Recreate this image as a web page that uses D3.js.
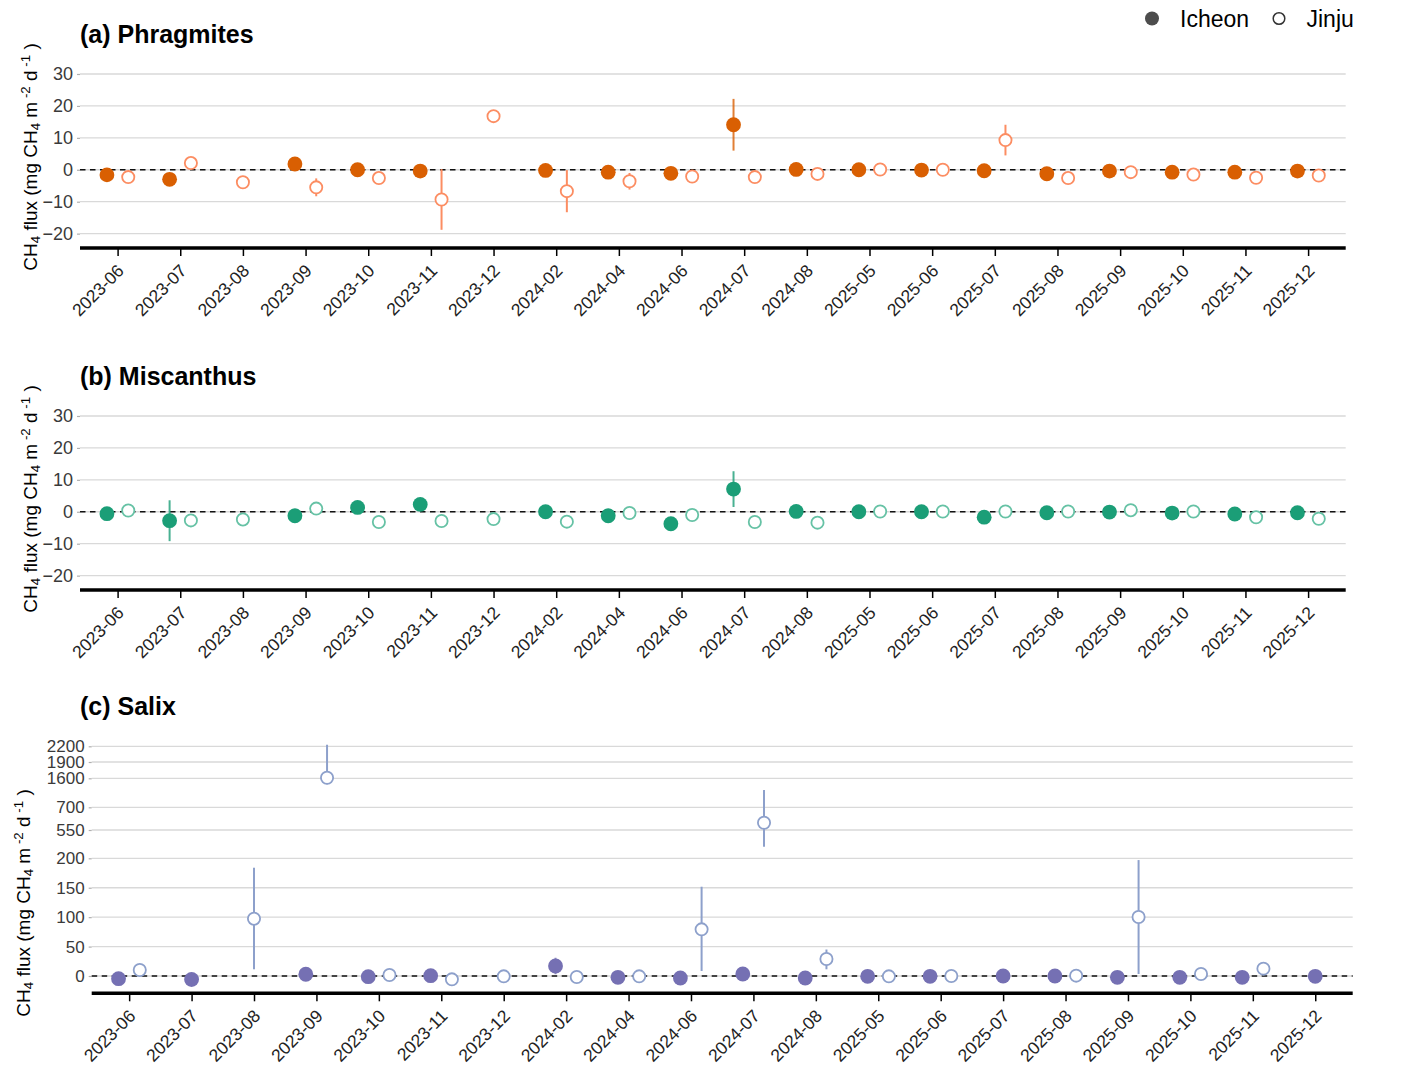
<!DOCTYPE html>
<html>
<head>
<meta charset="utf-8">
<script src="https://cdn.jsdelivr.net/npm/d3@7"></script>
<style>
  html, body { margin: 0; padding: 0; background: #fff; }
  svg { display: block; }
  text { font-family: "Liberation Sans", Arial, sans-serif; }
</style>
</head>
<body>
<svg id="chart" width="1413" height="1083"></svg>
<script>
// ---------------- DATA ----------------
const categories = ["2023-06","2023-07","2023-08","2023-09","2023-10","2023-11","2023-12",
  "2024-02","2024-04","2024-06","2024-07","2024-08","2025-05","2025-06","2025-07",
  "2025-08","2025-09","2025-10","2025-11","2025-12"];

const sites = ["Icheon", "Jinju"];

// (a) Phragmites
const phragIcheon    = [-1.6, -3.0, null, 1.8, 0.0, -0.4, null, -0.2, -0.75, -1.1, 14.1, 0.1, 0.0, -0.1, -0.3, -1.25, -0.4, -0.75, -0.75, -0.4];
const phragIcheonErr = [0, 0, null, 0, 0, 0, null, 0, 0, 0, 8.1, 0, 0, 0, 0, 0, 0, 0, 0, 0];
const phragJinju     = [-2.3, 2.1, -3.9, -5.5, -2.6, -9.3, 16.8, -6.7, -3.6, -2.1, -2.3, -1.3, 0.1, 0.0, 9.3, -2.6, -0.75, -1.5, -2.5, -1.8];
const phragJinjuErr  = [0, 0, 0, 2.8, 0, 9.5, 0, 6.6, 2.6, 0, 0, 0, 0, 0, 4.8, 0, 0, 0, 0, 0];

// (b) Miscanthus
const miscIcheon    = [-0.6, -2.8, null, -1.25, 1.35, 2.3, null, 0.0, -1.25, -3.75, 7.1, 0.1, 0.0, 0.0, -1.7, -0.3, -0.1, -0.4, -0.7, -0.3];
const miscIcheonErr = [0, 6.4, null, 0, 0, 0, null, 0, 0, 0, 5.6, 0, 0, 0, 0, 0, 0, 0, 0, 0];
const miscJinju     = [0.4, -2.7, -2.4, 1.0, -3.2, -2.9, -2.3, -3.1, -0.4, -1.0, -3.2, -3.4, 0.1, 0.1, 0.1, 0.1, 0.5, 0.1, -1.7, -2.2];
const miscJinjuErr  = [0, 0, 0, 0, 0, 0, 0, 0, 0, 0, 0, 0, 0, 0, 0, 0, 0, 0, 0, 0];

// (c) Salix (error bars given as lower / upper bounds)
const salixIcheon     = [-4.6, -6.0, null, 3.0, -1.1, 0.6, null, 17.0, -2.3, -3.4, 3.4, -3.4, -0.6, -0.6, 0.0, 0.0, -2.3, -2.3, -2.3, -0.6];
const salixIcheonLow  = [null, null, null, null, null, null, null, 3.0, null, null, null, null, null, null, null, null, null, null, null, null];
const salixIcheonHigh = [null, null, null, null, null, null, null, 31.0, null, null, null, null, null, null, null, null, null, null, null, null];
const salixJinju      = [10.2, null, 97.4, 1610, 1.7, -5.7, -0.6, -1.7, -0.6, 79.3, 598, 28.9, -0.6, 0.0, null, 0.6, 100.3, 3.4, 12.5, null];
const salixJinjuLow   = [null, null, 11.4, 1414, null, null, null, null, null, 8.5, 343, 11.4, null, null, null, null, 3.4, null, null, null];
const salixJinjuHigh  = [null, null, 184, 2230, null, null, null, null, null, 151.7, 1237, 45, null, null, null, null, 197, null, null, null];

// tick labels
const yTicksAB = [-20, -10, 0, 10, 20, 30];
const yTicksC  = [0, 50, 100, 150, 200, 550, 700, 1600, 1900, 2200];
// broken (piecewise) axis of panel (c): value breakpoints and their share of panel height
const salixBreaks     = [-29.5, 0, 200, 550, 700, 1600, 1900, 2200, 2244];
const salixBreakShare = [0, 0.0694, 0.5415, 0.655, 0.746, 0.8624, 0.9278, 0.9908, 1];

// colours
const panelColors = {
  a: { Icheon: "#D95F02", Jinju: "#FC8D62" },
  b: { Icheon: "#1B9E77", Jinju: "#66C2A5" },
  c: { Icheon: "#7570B3", Jinju: "#8DA0CB" }
};

// ---------------- DRAW ----------------
const svg = d3.select("#chart");
const FONT = "'Liberation Sans', Arial, sans-serif";

function buildRows(icheon, iLow, iHigh, jinju, jLow, jHigh) {
  const rows = [];
  categories.forEach((c, i) => {
    const both = icheon[i] != null && jinju[i] != null;
    if (icheon[i] != null) rows.push({cat: c, site: "Icheon", v: icheon[i], lo: iLow[i], hi: iHigh[i], dodge: both ? -1 : 0});
    if (jinju[i] != null) rows.push({cat: c, site: "Jinju", v: jinju[i], lo: jLow[i], hi: jHigh[i], dodge: both ? 1 : 0});
  });
  return rows;
}
function symLow(v, e) { return v.map((d, i) => (d == null || !e[i]) ? null : d - e[i]); }
function symHigh(v, e) { return v.map((d, i) => (d == null || !e[i]) ? null : d + e[i]); }

function yTitle(g, x, y) {
  const t = g.append("text")
    .attr("transform", `translate(${x},${y}) rotate(-90)`)
    .attr("text-anchor", "middle")
    .attr("font-size", 19)
    .attr("fill", "#000");
  t.append("tspan").text("CH");
  t.append("tspan").attr("baseline-shift", "-25%").attr("font-size", "70%").text("4");
  t.append("tspan").text(" flux (mg CH");
  t.append("tspan").attr("baseline-shift", "-25%").attr("font-size", "70%").text("4");
  t.append("tspan").text(" m");
  t.append("tspan").attr("baseline-shift", "55%").attr("font-size", "70%").text(" -2");
  t.append("tspan").text(" d");
  t.append("tspan").attr("baseline-shift", "55%").attr("font-size", "70%").text(" -1");
  t.append("tspan").text(" )");
}

function drawPanel(opt) {
  const { left, right, top, bottom, y, ticks, rows, colors, title, titleY, ytX, ytY, tickFont } = opt;
  const g = svg.append("g");
  const x = d3.scalePoint().domain(categories).range([left, right]).padding(0.6);
  const dodgeW = x.step() * 0.17;

  // grid lines
  g.append("g").selectAll("line").data(ticks).join("line")
    .attr("x1", left).attr("x2", right)
    .attr("y1", d => y(d)).attr("y2", d => y(d))
    .attr("stroke", "#d9d9d9").attr("stroke-width", 1.3);

  // y axis (labels + small grey ticks)
  const yAxis = d3.axisLeft(y).tickValues(ticks).tickSize(3).tickPadding(4).tickFormat(d3.format("d"));
  const ya = g.append("g").attr("transform", `translate(${left},0)`).call(yAxis);
  ya.select(".domain").remove();
  ya.selectAll(".tick line").attr("stroke", "#b0b0b0").attr("stroke-width", 1.2);
  ya.selectAll(".tick text").attr("font-size", tickFont).attr("fill", "#3a3a3a").attr("font-family", FONT);

  // zero reference line
  g.append("line")
    .attr("x1", left).attr("x2", right)
    .attr("y1", y(0)).attr("y2", y(0))
    .attr("stroke", "#111").attr("stroke-width", 1.4)
    .attr("stroke-dasharray", "5.5,4.5");

  // x axis
  const xAxis = d3.axisBottom(x).tickSize(8).tickSizeOuter(0).tickPadding(0);
  const xa = g.append("g").attr("transform", `translate(0,${bottom})`).call(xAxis);
  xa.select(".domain").attr("stroke", "#000").attr("stroke-width", 3.5)
    .attr("d", `M${left},0H${right}`);
  xa.selectAll(".tick line").attr("stroke", "#000").attr("stroke-width", 1.5);
  xa.selectAll(".tick text")
    .attr("font-size", 17.5).attr("fill", "#222").attr("font-family", FONT)
    .attr("text-anchor", "end")
    .attr("dy", "0.72em").attr("y", 0)
    .attr("transform", "translate(-2,15) rotate(-45)");

  const cx = d => x(d.cat) + d.dodge * dodgeW;

  // error bars
  g.append("g").selectAll("line").data(rows.filter(d => d.lo != null && d.hi != null)).join("line")
    .attr("x1", cx).attr("x2", cx)
    .attr("y1", d => y(d.lo)).attr("y2", d => y(d.hi))
    .attr("stroke", d => colors[d.site])
    .attr("stroke-opacity", d => d.site === "Icheon" ? 0.8 : 1)
    .attr("stroke-width", 2);

  // points
  g.append("g").selectAll("circle").data(rows).join("circle")
    .attr("cx", cx).attr("cy", d => y(d.v))
    .attr("r", d => d.site === "Icheon" ? 7.4 : 6.1)
    .attr("fill", d => d.site === "Icheon" ? colors.Icheon : "#fff")
    .attr("stroke", d => d.site === "Icheon" ? "none" : colors.Jinju)
    .attr("stroke-width", 1.8);

  // title
  g.append("text").attr("x", 80).attr("y", titleY)
    .attr("font-size", 25).attr("font-weight", "bold").attr("fill", "#000")
    .text(title);

  yTitle(g, ytX, ytY);
}

// (a)
const yA = d3.scaleLinear().domain([-24.5, 32.5]).range([248, 66]);
drawPanel({
  left: 80, right: 1345.7, top: 66, bottom: 248, y: yA, ticks: yTicksAB, tickFont: 18,
  rows: buildRows(phragIcheon, symLow(phragIcheon, phragIcheonErr), symHigh(phragIcheon, phragIcheonErr),
                  phragJinju, symLow(phragJinju, phragJinjuErr), symHigh(phragJinju, phragJinjuErr)),
  colors: panelColors.a, title: "(a) Phragmites", titleY: 43, ytX: 37, ytY: 157
});

// (b)
const yB = d3.scaleLinear().domain([-24.5, 32.5]).range([590, 408]);
drawPanel({
  left: 80, right: 1345.7, top: 408, bottom: 590, y: yB, ticks: yTicksAB, tickFont: 18,
  rows: buildRows(miscIcheon, symLow(miscIcheon, miscIcheonErr), symHigh(miscIcheon, miscIcheonErr),
                  miscJinju, symLow(miscJinju, miscJinjuErr), symHigh(miscJinju, miscJinjuErr)),
  colors: panelColors.b, title: "(b) Miscanthus", titleY: 385, ytX: 37, ytY: 499
});

// (c) piecewise-linear broken axis
const cTop = 744, cBottom = 993.3;
const yC = d3.scaleLinear().domain(salixBreaks)
  .range(salixBreakShare.map(s => cBottom - s * (cBottom - cTop)));
drawPanel({
  left: 91.7, right: 1352.7, top: cTop, bottom: cBottom, y: yC, ticks: yTicksC, tickFont: 17,
  rows: buildRows(salixIcheon, salixIcheonLow, salixIcheonHigh, salixJinju, salixJinjuLow, salixJinjuHigh),
  colors: panelColors.c, title: "(c) Salix", titleY: 715, ytX: 30, ytY: 903
});

// legend
const lg = svg.append("g");
lg.append("circle").attr("cx", 1152).attr("cy", 18.5).attr("r", 7).attr("fill", "#4d4d4d");
lg.append("text").attr("x", 1180).attr("y", 27).attr("font-size", 23).attr("fill", "#000").text(sites[0]);
lg.append("circle").attr("cx", 1279).attr("cy", 18.5).attr("r", 5.8)
  .attr("fill", "#fff").attr("stroke", "#333").attr("stroke-width", 1.5);
lg.append("text").attr("x", 1306.5).attr("y", 27).attr("font-size", 23).attr("fill", "#000").text(sites[1]);
</script>
</body>
</html>
